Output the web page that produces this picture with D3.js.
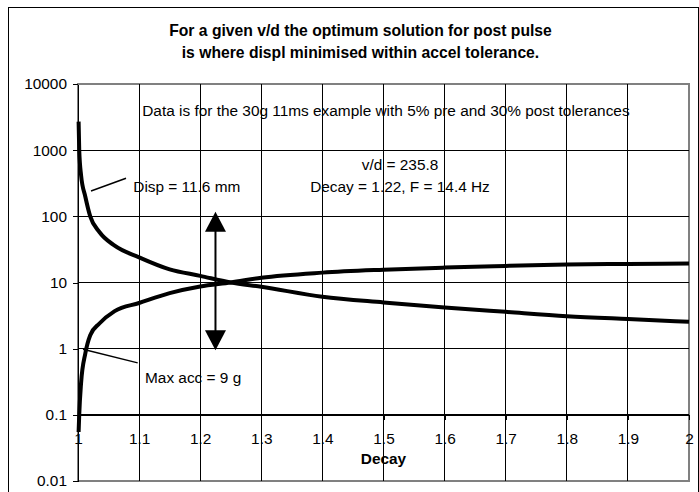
<!DOCTYPE html>
<html>
<head>
<meta charset="utf-8">
<script src="https://cdn.jsdelivr.net/npm/d3@7"></script>
<style>
  html, body { margin: 0; padding: 0; background: #fff; }
  svg { display: block; font-family: "Liberation Sans", Arial, sans-serif; }
</style>
</head>
<body>
<svg id="chart" width="699" height="492"></svg>
<script>
// ---- data ----
const titleLines = ["For a given v/d the optimum solution for post pulse",
                    "is where displ minimised within accel tolerance."];
const xTitle = "Decay";
const decay = [1.001, 1.002, 1.005, 1.012, 1.02, 1.035, 1.06, 1.1, 1.15, 1.2, 1.25, 1.3, 1.4, 1.5, 1.6, 1.7, 1.8, 1.9, 2.0];
const disp  = [2700, 1000, 420, 198, 100, 58, 36, 24, 15.8, 12.6, 10, 8.6, 6.1, 5.0, 4.2, 3.6, 3.1, 2.8, 2.55];
const acc   = [0.055, 0.1, 0.3, 0.85, 1.6, 2.4, 3.7, 4.9, 6.9, 8.7, 10, 11.8, 14.1, 15.6, 16.8, 17.8, 18.7, 19.1, 19.3];
const xTicks = [1, 1.1, 1.2, 1.3, 1.4, 1.5, 1.6, 1.7, 1.8, 1.9, 2];
const xTickLabels = ["1", "1.1", "1.2", "1.3", "1.4", "1.5", "1.6", "1.7", "1.8", "1.9", "2"];
const yTicks = [0.01, 0.1, 1, 10, 100, 1000, 10000];
const yTickLabels = ["0.01", "0.1", "1", "10", "100", "1000", "10000"];
// annotations in data coordinates
const notes = [
  { text: "Data is for the 30g 11ms example with 5% pre and 30% post tolerances", x: 1.504, y: 3950, anchor: "middle" },
  { text: "v/d = 235.8", x: 1.527, y: 597, anchor: "middle" },
  { text: "Decay = 1.22, F = 14.4 Hz", x: 1.527, y: 280, anchor: "middle" },
  { text: "Disp = 11.6 mm", x: 1.0905, y: 280, anchor: "start" },
  { text: "Max acc = 9 g", x: 1.1097, y: 0.36, anchor: "start" }
];
const pointers = [
  { x1: 1.0213, y1: 241, x2: 1.0786, y2: 376 },
  { x1: 1.0082, y1: 0.98, x2: 1.0977, y2: 0.61 }
];
const arrow = { x: 1.225, top: 117, bottom: 0.95 };

// ---- layout ----
const svg = d3.select("#chart");
const W = 699, H = 492;
const plot = { left: 78, right: 689, top: 84, bottom: 481 };
const x = d3.scaleLinear().domain([1, 2]).range([plot.left, plot.right]);
const y = d3.scaleLog().domain([0.01, 10000]).range([plot.bottom, plot.top]);
const FONT = 15.4;

svg.append("rect").attr("width", W).attr("height", H).attr("fill", "#fff");
// outer chart border
svg.append("rect").attr("x", 8.5).attr("y", 7.5).attr("width", 690).attr("height", 600)
  .attr("fill", "none").attr("stroke", "#000").attr("stroke-width", 1);

// title
svg.append("g").selectAll("text").data(titleLines).join("text")
  .attr("x", 360.5).attr("y", (d, i) => 36.2 + i * 21.6)
  .attr("text-anchor", "middle").attr("font-weight", "bold")
  .attr("font-size", 15.7).text(d => d);

// plot frame (grey top/right/bottom)
svg.append("rect").attr("x", plot.left).attr("y", plot.top)
  .attr("width", plot.right - plot.left).attr("height", plot.bottom - plot.top)
  .attr("fill", "none").attr("stroke", "#808080").attr("stroke-width", 1.5)
  .attr("shape-rendering", "crispEdges");

// grid
const grid = svg.append("g").attr("stroke", "#000").attr("stroke-width", 1).attr("shape-rendering", "crispEdges");
grid.selectAll(".h").data(yTicks.filter(v => v > 0.01 && v < 10000)).join("line")
  .attr("x1", plot.left).attr("x2", plot.right)
  .attr("y1", d => y(d)).attr("y2", d => y(d));
grid.selectAll(".v").data(xTicks.filter(v => v > 1 && v < 2)).join("line")
  .attr("x1", d => x(d)).attr("x2", d => x(d))
  .attr("y1", plot.top).attr("y2", plot.bottom);

// y axis
const yAxis = d3.axisLeft(y).tickValues(yTicks).tickSize(5).tickSizeOuter(0).tickPadding(6)
  .tickFormat((d, i) => yTickLabels[i]);
const gy = svg.append("g").attr("transform", `translate(${plot.left},0)`).call(yAxis);
gy.selectAll("text").attr("font-size", FONT).attr("font-family", "'Liberation Sans', Arial, sans-serif").attr("fill", "#000");
gy.selectAll("line, path").attr("stroke", "#000").attr("shape-rendering", "crispEdges");

// x axis crossing at 0.1
const xAxis = d3.axisBottom(x).tickValues(xTicks).tickSize(5).tickSizeOuter(0)
  .tickFormat((d, i) => xTickLabels[i]);
const gx = svg.append("g").attr("transform", `translate(0,${y(0.1)})`).call(xAxis);
gx.selectAll("text").attr("font-size", FONT).attr("font-family", "'Liberation Sans', Arial, sans-serif")
  .attr("fill", "#000").attr("y", 24).attr("dy", "0.35em");
gx.selectAll("line, path").attr("stroke", "#000").attr("shape-rendering", "crispEdges");

// x title
svg.append("text").attr("x", (plot.left + plot.right) / 2).attr("y", 463.5)
  .attr("text-anchor", "middle").attr("font-weight", "bold").attr("font-size", FONT).text(xTitle);

// curves
const line = d3.line().x(d => x(d[0])).y(d => y(d[1])).curve(d3.curveMonotoneX);
[disp, acc].forEach(series => {
  svg.append("path").datum(decay.map((dv, i) => [dv, series[i]]))
    .attr("d", line).attr("fill", "none").attr("stroke", "#000")
    .attr("stroke-width", 4).attr("stroke-linejoin", "round");
});

// annotation texts
svg.append("g").selectAll("text").data(notes).join("text")
  .attr("x", d => x(d.x)).attr("y", d => y(d.y)).attr("dy", "0.35em")
  .attr("text-anchor", d => d.anchor).attr("font-size", FONT).text(d => d.text);

// pointer lines
svg.append("g").selectAll("line").data(pointers).join("line")
  .attr("x1", d => x(d.x1)).attr("y1", d => y(d.y1))
  .attr("x2", d => x(d.x2)).attr("y2", d => y(d.y2))
  .attr("stroke", "#000").attr("stroke-width", 1.5);

// double arrow
const ax = x(arrow.x), ay1 = y(arrow.top), ay2 = y(arrow.bottom);
const hw = 10.5, hh = 20;
svg.append("line").attr("x1", ax).attr("x2", ax).attr("y1", ay1 + hh - 1).attr("y2", ay2 - hh + 1)
  .attr("stroke", "#000").attr("stroke-width", 2);
svg.append("path").attr("d", `M${ax},${ay1}L${ax - hw},${ay1 + hh}L${ax + hw},${ay1 + hh}Z`).attr("fill", "#000");
svg.append("path").attr("d", `M${ax},${ay2}L${ax - hw},${ay2 - hh}L${ax + hw},${ay2 - hh}Z`).attr("fill", "#000");
</script>
</body>
</html>
